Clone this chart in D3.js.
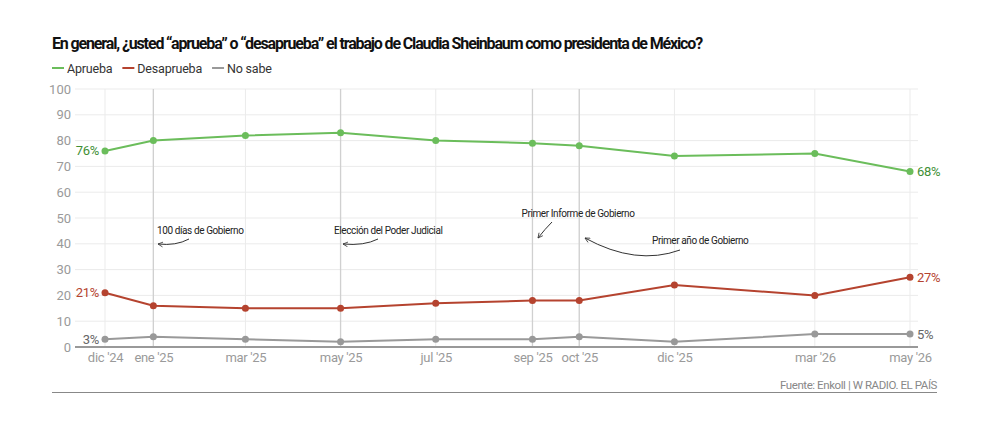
<!DOCTYPE html>
<html><head><meta charset="utf-8">
<script src="https://cdn.jsdelivr.net/npm/d3@7"></script>
<style>
body{margin:0;background:#fff;}
svg{display:block;font-family:"Roboto","Liberation Sans",sans-serif;}
</style></head>
<body><svg id="c" width="1000" height="422"></svg>
<script>
const dates = ["2024-12","2025-01","2025-03","2025-05","2025-07","2025-09","2025-10","2025-12","2026-03","2026-05"];
const tickLabels = ["dic '24","ene '25","mar '25","may '25","jul '25","sep '25","oct '25","dic '25","mar '26","may '26"];
const aprueba = [76,80,82,83,80,79,78,74,75,68];
const desaprueba = [21,16,15,15,17,18,18,24,20,27];
const noSabe = [3,4,3,2,3,3,4,2,5,5];
const yTicks = [0,10,20,30,40,50,60,70,80,90,100];
const eventDates = ["2025-01","2025-05","2025-09","2025-10"];
const seriesNames = ["Aprueba","Desaprueba","No sabe"];
const seriesColors = ["#6bbd5b","#b5432f","#999999"];
const labelColors = ["#3f8f35","#b5432f","#666666"];

const parse = d3.timeParse("%Y-%m");
const D = dates.map(parse);
const svg = d3.select("#c");

const x = d3.scaleTime().domain([D[0], D[D.length-1]]).range([105, 910]);
const y = d3.scaleLinear().domain([0,100]).range([347, 89]);
const L = 75, R = 918;

function fitWidth(sel, target){
  const n = sel.node();
  const w = n.getComputedTextLength();
  const chars = n.textContent.length;
  sel.attr("letter-spacing", ((target - w) / chars).toFixed(3) + "px");
}

// title
const title = svg.append("text").attr("x",52).attr("y",49).attr("font-size",16).attr("font-weight",700)
  .attr("fill","#111")
  .text("En general, ¿usted “aprueba” o “desaprueba” el trabajo de Claudia Sheinbaum como presidenta de México?");
fitWidth(title, 650);

// legend
let lx = 52;
seriesNames.forEach((n,i)=>{
  svg.append("line").attr("x1",lx).attr("x2",lx+12).attr("y1",68).attr("y2",68)
    .attr("stroke",seriesColors[i]).attr("stroke-width",2);
  const t = svg.append("text").attr("x",lx+15).attr("y",72.5).attr("font-size",12.5)
    .attr("fill","#333").attr("letter-spacing","-0.2px").text(n);
  lx += 15 + t.node().getComputedTextLength() + 10;
});

// horizontal grid
const g = svg.append("g");
g.selectAll(".hg").data(yTicks.filter(d=>d>0)).join("line")
  .attr("x1",L).attr("x2",R).attr("y1",d=>y(d)).attr("y2",d=>y(d))
  .attr("stroke","#ebebeb").attr("stroke-width",1);
// vertical grid
g.selectAll(".vg").data(D).join("line")
  .attr("x1",d=>x(d)).attr("x2",d=>x(d)).attr("y1",y(100)).attr("y2",y(0))
  .attr("stroke","#ebebeb");
// event lines
g.selectAll(".ev").data(eventDates.map(parse)).join("line")
  .attr("x1",d=>x(d)).attr("x2",d=>x(d)).attr("y1",y(100)).attr("y2",y(0))
  .attr("stroke","#d0d0d0").attr("stroke-width",1.3);

// y axis labels
const yAxis = d3.axisLeft(y).tickValues(yTicks).tickSize(0).tickPadding(0);
const ya = svg.append("g").attr("transform","translate(71,0)").call(yAxis);
ya.select(".domain").remove();
ya.selectAll("text").attr("font-size",13).attr("fill","#9a9a9a").attr("font-family","Roboto, sans-serif");

// baseline
svg.append("line").attr("x1",L).attr("x2",R).attr("y1",y(0)).attr("y2",y(0))
  .attr("stroke","#999").attr("stroke-width",2);

// x axis labels
const xAxis = d3.axisBottom(x).tickValues(D).tickFormat((d,i)=>tickLabels[i]).tickSize(0).tickPadding(0);
const xa = svg.append("g").attr("transform","translate(0,353)").call(xAxis);
xa.select(".domain").remove();
xa.selectAll("text").attr("font-size",13).attr("fill","#9a9a9a").attr("dy","0.71em")
  .attr("letter-spacing","-0.3px").attr("font-family","Roboto, sans-serif");

// annotations
const ann = svg.append("g").attr("fill","#222").attr("font-size",10).attr("letter-spacing","-0.4px");
function annText(tx,ty,s,anchor){ ann.append("text").attr("x",tx).attr("y",ty).attr("text-anchor",anchor||"start").text(s); }
annText(157,233.5,"100 días de Gobierno");
annText(334,233.5,"Elección del Poder Judicial");
annText(578,216.5,"Primer Informe de Gobierno","middle");
annText(652,243.5,"Primer año de Gobierno");

svg.append("defs").append("marker").attr("id","ah").attr("viewBox","0 0 10 10")
  .attr("refX",9).attr("refY",5).attr("markerWidth",6).attr("markerHeight",6).attr("orient","auto")
  .append("path").attr("d","M1,1 L9,5 L1,9").attr("fill","none").attr("stroke","#333").attr("stroke-width",1.3);
const arrows = [
  "M189,239 Q176,246 158,244",
  "M378,239 Q364,246 343,244",
  "M552,222 Q545,229 538,238",
  "M680,250 Q636,266 585,238"
];
svg.selectAll(".arr").data(arrows).join("path").attr("d",d=>d)
  .attr("fill","none").attr("stroke","#333").attr("stroke-width",1)
  .attr("marker-end","url(#ah)");

// series
const allSeries = [aprueba, desaprueba, noSabe];
const line = d3.line().x((d,i)=>x(D[i])).y(d=>y(d));
allSeries.forEach((s,k)=>{
  svg.append("path").datum(s).attr("d",line).attr("fill","none")
    .attr("stroke",seriesColors[k]).attr("stroke-width",2);
  svg.selectAll(".p"+k).data(s).join("circle").attr("cx",(d,i)=>x(D[i])).attr("cy",d=>y(d))
    .attr("r",3.5).attr("fill",seriesColors[k]);
  svg.append("text").attr("x",x(D[0])-6).attr("y",y(s[0])).attr("dy","0.35em").attr("text-anchor","end")
    .attr("font-size",13).attr("letter-spacing","-0.3px").attr("fill",labelColors[k]).text(s[0]+"%");
  svg.append("text").attr("x",x(D[D.length-1])+7).attr("y",y(s[s.length-1])).attr("dy","0.35em")
    .attr("font-size",13).attr("letter-spacing","-0.3px").attr("fill",labelColors[k]).text(s[s.length-1]+"%");
});

// footer
const foot = svg.append("text").attr("x",937).attr("y",389).attr("text-anchor","end").attr("font-size",11.5)
  .attr("fill","#888").text("Fuente: Enkoll | W RADIO. EL PAÍS");
fitWidth(foot, 157);
svg.append("line").attr("x1",52).attr("x2",937).attr("y1",392.5).attr("y2",392.5)
  .attr("stroke","#888").attr("stroke-width",1);
</script></body></html>
